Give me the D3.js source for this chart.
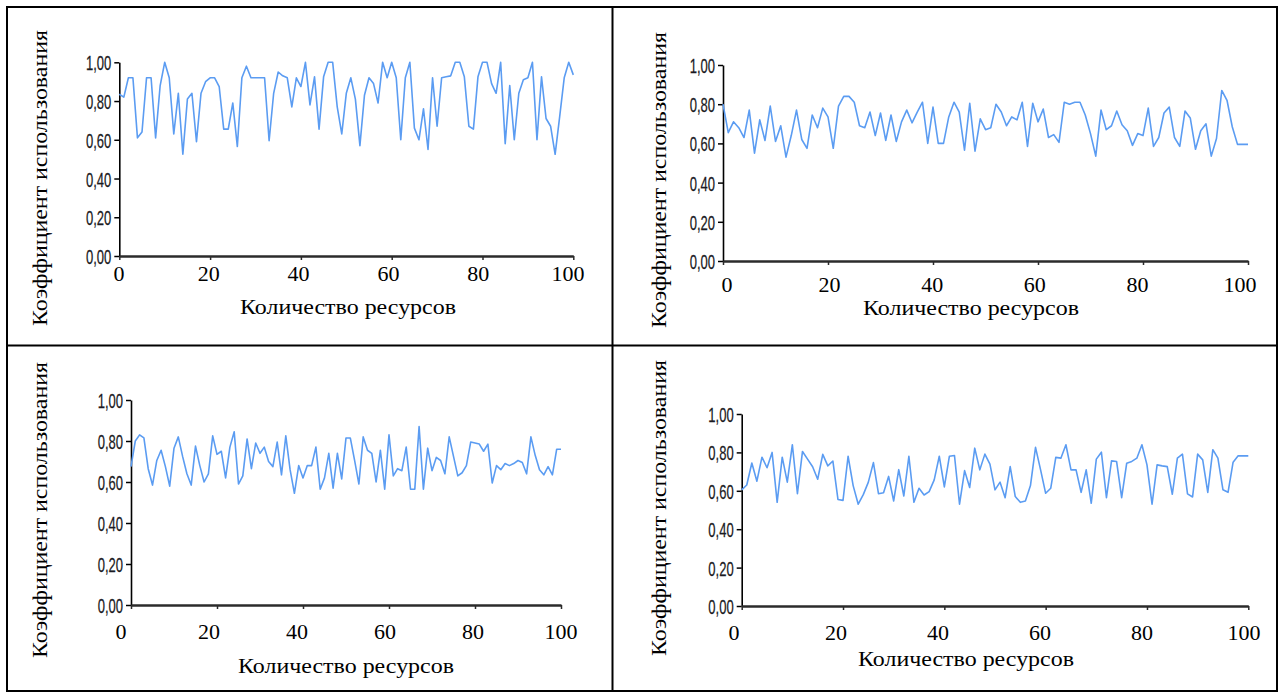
<!DOCTYPE html>
<html>
<head>
<meta charset="utf-8">
<script src="https://cdn.jsdelivr.net/npm/d3@7"></script>
<style>
  html, body { margin: 0; padding: 0; background: #fff; }
  svg { display: block; }
</style>
</head>
<body>
<svg id="chart" width="1281" height="693"></svg>
<script>
// Number of resources on the x axis: 0..100
const resources = d3.range(0, 101);
const xTickValues = [0, 20, 40, 60, 80, 100];
const yTickValues = [0, 0.2, 0.4, 0.6, 0.8, 1.0];
const xTitleText = "Количество ресурсов";
const yTitleText = "Коэффициент использования";

// Utilisation coefficient per number of resources, one array per experiment
const usageA = [
  0.835, 0.82, 0.92, 0.92, 0.61, 0.64, 0.92, 0.92, 0.61, 0.88,
  1.00, 0.92, 0.63, 0.84, 0.525, 0.81, 0.84, 0.59, 0.84, 0.90,
  0.92, 0.92, 0.875, 0.655, 0.655, 0.79, 0.565, 0.92, 0.98, 0.92,
  0.92, 0.92, 0.92, 0.595, 0.84, 0.95, 0.93, 0.92, 0.77, 0.92,
  0.875, 1.00, 0.78, 0.925, 0.655, 0.925, 1.00, 1.00, 0.77, 0.63,
  0.84, 0.92, 0.81, 0.57, 0.83, 0.92, 0.89, 0.79, 1.00, 0.92,
  1.00, 0.92, 0.60, 0.92, 1.00, 0.66, 0.60, 0.76, 0.55, 0.92,
  0.67, 0.92, 0.925, 0.93, 1.00, 1.00, 0.925, 0.67, 0.655, 0.925,
  1.00, 1.00, 0.89, 0.84, 1.00, 0.58, 0.88, 0.60, 0.84, 0.91,
  0.92, 1.00, 0.60, 0.925, 0.71, 0.67, 0.525, 0.72, 0.92, 1.00,
  0.935
];

const usageB = [
  0.80, 0.655, 0.71, 0.68, 0.63, 0.77, 0.55, 0.72, 0.615, 0.79,
  0.61, 0.69, 0.53, 0.64, 0.77, 0.62, 0.575, 0.745, 0.68, 0.78,
  0.735, 0.575, 0.79, 0.84, 0.84, 0.81, 0.69, 0.68, 0.76, 0.64,
  0.755, 0.615, 0.745, 0.61, 0.71, 0.77, 0.705, 0.76, 0.81, 0.60,
  0.785, 0.60, 0.60, 0.735, 0.81, 0.76, 0.565, 0.805, 0.56, 0.725,
  0.67, 0.68, 0.80, 0.76, 0.69, 0.735, 0.72, 0.81, 0.585, 0.805,
  0.71, 0.775, 0.63, 0.645, 0.605, 0.81, 0.80, 0.81, 0.81, 0.745,
  0.65, 0.535, 0.77, 0.67, 0.69, 0.765, 0.695, 0.665, 0.59, 0.65,
  0.64, 0.78, 0.585, 0.63, 0.755, 0.785, 0.63, 0.585, 0.765, 0.73,
  0.57, 0.665, 0.70, 0.535, 0.625, 0.87, 0.82, 0.685, 0.595, 0.595,
  0.595
];

const usageC = [
  0.675, 0.80, 0.83, 0.815, 0.665, 0.585, 0.705, 0.755, 0.675, 0.58,
  0.765, 0.82, 0.725, 0.64, 0.585, 0.775, 0.68, 0.60, 0.64, 0.825,
  0.735, 0.75, 0.62, 0.77, 0.845, 0.59, 0.63, 0.81, 0.665, 0.79,
  0.74, 0.77, 0.70, 0.675, 0.795, 0.635, 0.825, 0.66, 0.545, 0.68,
  0.62, 0.68, 0.68, 0.77, 0.565, 0.62, 0.74, 0.57, 0.74, 0.615,
  0.815, 0.815, 0.705, 0.59, 0.82, 0.755, 0.74, 0.60, 0.755, 0.565,
  0.83, 0.63, 0.665, 0.655, 0.77, 0.565, 0.565, 0.87, 0.565, 0.765,
  0.655, 0.72, 0.705, 0.64, 0.82, 0.725, 0.63, 0.645, 0.68, 0.795,
  0.79, 0.785, 0.75, 0.785, 0.595, 0.68, 0.66, 0.69, 0.68, 0.69,
  0.705, 0.695, 0.64, 0.82, 0.73, 0.66, 0.635, 0.675, 0.635, 0.76,
  0.76
];

const usageD = [
  0.605, 0.63, 0.745, 0.65, 0.775, 0.72, 0.80, 0.54, 0.775, 0.645,
  0.84, 0.585, 0.805, 0.765, 0.725, 0.66, 0.79, 0.73, 0.755, 0.555,
  0.55, 0.78, 0.627, 0.53, 0.58, 0.645, 0.747, 0.585, 0.59, 0.675,
  0.547, 0.71, 0.573, 0.78, 0.54, 0.613, 0.578, 0.596, 0.657, 0.78,
  0.62, 0.78, 0.784, 0.53, 0.705, 0.617, 0.822, 0.709, 0.791, 0.739,
  0.605, 0.645, 0.564, 0.726, 0.570, 0.540, 0.547, 0.627, 0.826, 0.709,
  0.587, 0.613, 0.774, 0.770, 0.840, 0.709, 0.709, 0.592, 0.709, 0.535,
  0.765, 0.801, 0.564, 0.756, 0.753, 0.564, 0.744, 0.753, 0.770, 0.840,
  0.735, 0.530, 0.735, 0.730, 0.726, 0.582, 0.770, 0.791, 0.584, 0.568,
  0.791, 0.761, 0.592, 0.814, 0.770, 0.605, 0.592, 0.749, 0.782, 0.782,
  0.782
];

// Layout of the four cells of the table (pixel geometry only)
const panels = [
  { values: usageA, xRange: [119.3, 573.3], yRange: [256, 62.3], labelRange: [119, 568], labelBase: 281,
    xTitle: [348, 314], yTitle: [47, 178] },
  { values: usageB, xRange: [723, 1248], yRange: [261, 65], labelRange: [727, 1240], labelBase: 292,
    xTitle: [971, 315], yTitle: [666, 180] },
  { values: usageC, xRange: [131, 561], yRange: [605, 400], labelRange: [121, 561], labelBase: 639,
    xTitle: [346, 673], yTitle: [47, 510] },
  { values: usageD, xRange: [741.7, 1248.3], yRange: [606, 414], labelRange: [734, 1244], labelBase: 640,
    xTitle: [966, 666], yTitle: [666, 508] }
];

const svg = d3.select("#chart");
const serif = "'Liberation Serif', 'Times New Roman', serif";
const sans = "'Liberation Sans', Arial, sans-serif";
const squeeze = 0.62;   // narrow look of the value labels

// Table grid
const grid = svg.append("g").attr("fill", "none").attr("stroke", "#000").attr("stroke-width", 2);
grid.append("rect").attr("x", 7).attr("y", 7).attr("width", 1270).attr("height", 684);
grid.append("line").attr("x1", 612.5).attr("x2", 612.5).attr("y1", 7).attr("y2", 691);
grid.append("line").attr("x1", 7).attr("x2", 1277).attr("y1", 345.5).attr("y2", 345.5);

const fmt = v => d3.format(".2f")(v).replace(".", ",");

panels.forEach(p => {
  const x = d3.scaleLinear().domain([0, 100]).range(p.xRange);
  const y = d3.scaleLinear().domain([0, 1]).range(p.yRange);
  const g = svg.append("g");

  // y axis
  const yAxis = g.append("g")
    .attr("transform", `translate(${p.xRange[0]},0)`)
    .call(d3.axisLeft(y).tickValues(yTickValues).tickSize(5).tickSizeOuter(0).tickFormat(fmt));
  yAxis.select(".domain").attr("stroke", "#000").attr("stroke-width", 1.6);
  yAxis.selectAll(".tick line").attr("stroke", "#000").attr("stroke-width", 1.5);
  yAxis.selectAll(".tick text")
    .attr("font-family", sans)
    .attr("font-size", 21)
    .attr("fill", "#1a1a22")
    .attr("stroke", "#1a1a22")
    .attr("stroke-width", 0.25)
    .attr("transform", `scale(${squeeze},1)`)
    .attr("x", -8 / squeeze)
    .attr("dy", "0.36em");

  // x axis (ticks only; numbers set separately in the serif row below)
  const xAxis = g.append("g")
    .attr("transform", `translate(0,${p.yRange[0]})`)
    .call(d3.axisBottom(x).tickValues(xTickValues).tickSize(4).tickSizeOuter(0).tickFormat(""));
  xAxis.select(".domain").attr("stroke", "#2b2b2b").attr("stroke-width", 2.4);
  xAxis.selectAll(".tick line").attr("stroke", "#2b2b2b").attr("stroke-width", 1.5);

  const labelX = d3.scaleLinear().domain([0, 100]).range(p.labelRange);
  g.append("g").selectAll("text").data(xTickValues).join("text")
    .attr("x", d => labelX(d))
    .attr("y", p.labelBase)
    .attr("text-anchor", "middle")
    .attr("font-family", serif)
    .attr("font-size", 22)
    .attr("fill", "#000")
    .text(d => d);

  // data line
  const line = d3.line().x((d, i) => x(resources[i])).y(d => y(d));
  g.append("path")
    .datum(p.values)
    .attr("fill", "none")
    .attr("stroke", "#5b9cf2")
    .attr("stroke-width", 1.6)
    .attr("stroke-linejoin", "round")
    .attr("d", line);

  // axis titles
  g.append("text")
    .attr("x", p.xTitle[0]).attr("y", p.xTitle[1])
    .attr("text-anchor", "middle")
    .attr("font-family", serif).attr("font-size", 21.5)
    .attr("textLength", 216).attr("lengthAdjust", "spacingAndGlyphs")
    .text(xTitleText);
  g.append("text")
    .attr("transform", `translate(${p.yTitle[0]},${p.yTitle[1]}) rotate(-90)`)
    .attr("text-anchor", "middle")
    .attr("font-family", serif).attr("font-size", 21.5)
    .attr("textLength", 296).attr("lengthAdjust", "spacingAndGlyphs")
    .text(yTitleText);
});
</script>
</body>
</html>
